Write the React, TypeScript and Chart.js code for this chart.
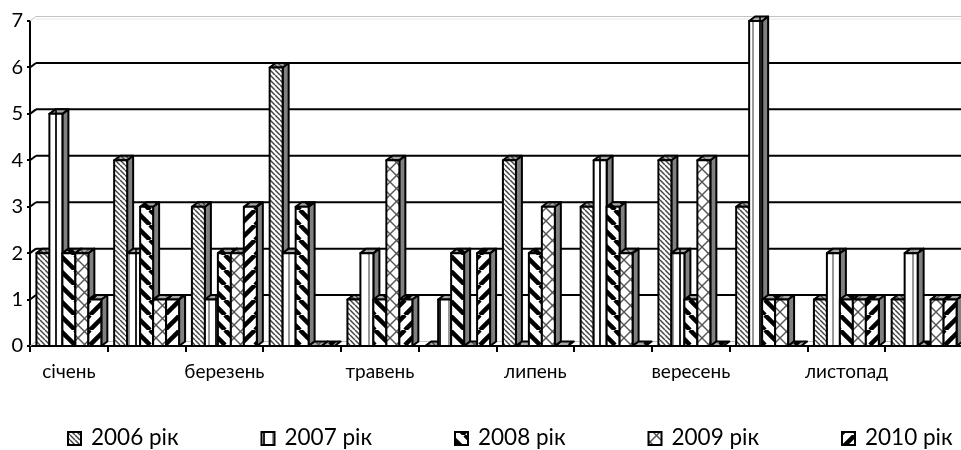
import React, { useEffect, useRef } from "react";
import { Chart, registerables } from "chart.js";

Chart.register(...registerables);

const months = ["січень","лютий","березень","квітень","травень","червень","липень","серпень","вересень","жовтень","листопад","грудень"];
const y2006 = [2,4,3,6,1,0,4,3,4,3,1,1];
const y2007 = [5,2,1,2,2,1,0,4,2,7,2,2];
const y2008 = [2,3,2,3,1,2,2,3,1,1,1,0];
const y2009 = [2,1,2,0,4,0,3,2,4,1,1,1];
const y2010 = [1,1,3,0,1,2,0,0,0,0,1,1];
const seriesNames = ["2006 рік","2007 рік","2008 рік","2009 рік","2010 рік"];
const seriesValues = [y2006,y2007,y2008,y2009,y2010];
const patternKinds = ["thinBack","vertical","wideBack","cross","wideFwd"];
const FONT = "Lato";
const DX = 6, DY = 4.5;

function makePattern(kind: string, shade = false): CanvasPattern {
  const c = document.createElement("canvas");
  const x = c.getContext("2d")!;
  const bg = shade ? "#a8a8a8" : "#fff";
  const size = kind === "wideBack" || kind === "wideFwd" ? 15 : kind === "vertical" ? 16 : kind === "cross" ? 13 : 5;
  c.width = size; c.height = size;
  x.fillStyle = bg; x.fillRect(0, 0, size, size);
  const diag = (back: boolean) => {
    for (let k = -size; k <= size * 2; k += size) {
      x.beginPath();
      if (back) { x.moveTo(k, 0); x.lineTo(k + size, size); }
      else { x.moveTo(k + size, 0); x.lineTo(k, size); }
      x.stroke();
    }
  };
  if (kind === "thinBack") { x.strokeStyle = "#444"; x.lineWidth = 1.5; diag(true); }
  if (kind === "cross") { x.strokeStyle = "#555"; x.lineWidth = 1.4; diag(true); diag(false); }
  if (kind === "wideBack") { x.strokeStyle = "#000"; x.lineWidth = 4.5; diag(true); }
  if (kind === "wideFwd") { x.strokeStyle = "#000"; x.lineWidth = 4.5; diag(false); }
  if (kind === "vertical") { x.fillStyle = "#222"; x.fillRect(7, 0, 2, size); x.fillStyle = "#999"; x.fillRect(0, 0, 2, size); }
  return x.createPattern(c, "repeat")!;
}

let topPatterns: CanvasPattern[] = [];
let frontPatterns: CanvasPattern[] = [];

const depthPlugin = {
  id: "depth",
  beforeDatasetsDraw(chart: any) {
    const { ctx, scales } = chart;
    const xs = scales.x, ys = scales.y;
    const base = ys.getPixelForValue(0);
    ctx.save();
    ys.ticks.forEach((t: any) => {
      const py = ys.getPixelForValue(t.value);
      const top = t.value === 7;
      const zero = t.value === 0;
      ctx.strokeStyle = top || zero ? "#c4c4c4" : "#000";
      ctx.lineWidth = top || zero ? 1 : 2;
      ctx.beginPath();
      ctx.moveTo(xs.left + DX, py - DY);
      ctx.lineTo(xs.right + 10, py - DY);
      ctx.stroke();
      if (top) {
        ctx.strokeStyle = "#e6e6e6";
        ctx.beginPath();
        ctx.moveTo(xs.left + DX, py - DY + 2.5);
        ctx.lineTo(xs.right + 10, py - DY + 2.5);
        ctx.stroke();
      }
      ctx.strokeStyle = top || zero ? "#c4c4c4" : "#000";
      ctx.beginPath();
      ctx.moveTo(xs.left, py);
      ctx.lineTo(xs.left + DX, py - DY);
      ctx.stroke();
    });
    const metas = seriesValues.map((_, d) => chart.getDatasetMeta(d));
    for (let i = 0; i < months.length; i++) {
      metas.forEach((m: any, d: number) => {
        const el = m.data[i];
        const { x, y, width } = el.getProps(["x", "y", "width"], true);
        const l = x - width / 2, r = x + width / 2;
        const empty = seriesValues[d][i] === 0;
        ctx.lineWidth = 2;
        ctx.strokeStyle = "#000";
        ctx.lineJoin = "round";
        if (!empty) {
          ctx.fillStyle = "#808080";
          ctx.beginPath();
          ctx.moveTo(r, y); ctx.lineTo(r + DX, y - DY); ctx.lineTo(r + DX, base - DY); ctx.lineTo(r, base);
          ctx.closePath(); ctx.fill(); ctx.stroke();
        }
        ctx.fillStyle = topPatterns[d];
        ctx.beginPath();
        ctx.moveTo(l, y); ctx.lineTo(l + DX, y - DY); ctx.lineTo(r + DX, y - DY); ctx.lineTo(r, y);
        ctx.closePath(); ctx.fill(); ctx.stroke();
        if (!empty) {
          el.draw(ctx, chart.chartArea);
          ctx.lineWidth = 2;
          ctx.strokeStyle = "#000";
          ctx.strokeRect(l, y, r - l, base - y);
        }
      });
    }
    ctx.restore();
    return false;
  },
  afterDraw(chart: any) {
    const { ctx } = chart;
    ctx.save();
    seriesNames.forEach((name, d) => {
      const bx = 67 + d * 193.5;
      ctx.fillStyle = frontPatterns[d];
      ctx.strokeStyle = "#000";
      ctx.lineWidth = 2;
      ctx.fillRect(bx + 1, 432, 13, 13);
      ctx.strokeRect(bx + 1, 432, 13, 13);
      ctx.fillStyle = "#000";
      ctx.font = `22.5px ${FONT}`;
      ctx.textBaseline = "middle";
      ctx.textAlign = "left";
      ctx.fillText(name, bx + 24, 438);
    });
    ctx.restore();
  },
};

export default function App() {
  const ref = useRef<HTMLCanvasElement>(null);
  useEffect(() => {
    document.body.style.margin = "0";
    topPatterns = patternKinds.map((k) => makePattern(k, true));
    frontPatterns = patternKinds.map((k) => makePattern(k));
    const chart = new Chart(ref.current!, {
      type: "bar",
      data: {
        labels: months,
        datasets: seriesNames.map((name, d) => ({
          label: name,
          data: seriesValues[d],
          backgroundColor: frontPatterns[d],
          borderWidth: 0,
          categoryPercentage: 0.835,
          barPercentage: 1,
        })),
      },
      options: {
        animation: false,
        responsive: false,
        devicePixelRatio: 1,
        layout: { padding: { left: 0, right: 0, top: 21, bottom: 0 } },
        scales: {
          x: {
            afterFit: (s: any) => { s.height = 104; },
            grid: { display: true, drawOnChartArea: false, color: "#000", lineWidth: 2, tickLength: 6, offset: true },
            border: { color: "#000", width: 2 },
            ticks: {
              autoSkip: false, maxRotation: 0, minRotation: 0, color: "#000", padding: 8,
              font: { family: FONT, size: 19 },
              callback: (_v: any, i: number) => (i % 2 === 0 ? months[i] : ""),
            },
          },
          y: {
            min: 0, max: 7, afterFit: (s: any) => { s.width = 30; },
            grid: { display: true, drawOnChartArea: false, color: "#000", lineWidth: 2, tickLength: 3 },
            border: { color: "#000", width: 2 },
            ticks: { stepSize: 1, color: "#000", padding: 4, font: { family: FONT, size: 20 } },
          },
        },
        plugins: { tooltip: { enabled: false }, legend: { display: false } },
      } as any,
      plugins: [depthPlugin],
    });
    return () => chart.destroy();
  }, []);
  return (
    <div style={{ position: "fixed", left: 0, top: 0, width: 961, height: 450, overflow: "hidden" }}>
      <canvas ref={ref} width={963} height={450} style={{ display: "block" }} />
    </div>
  );
}
